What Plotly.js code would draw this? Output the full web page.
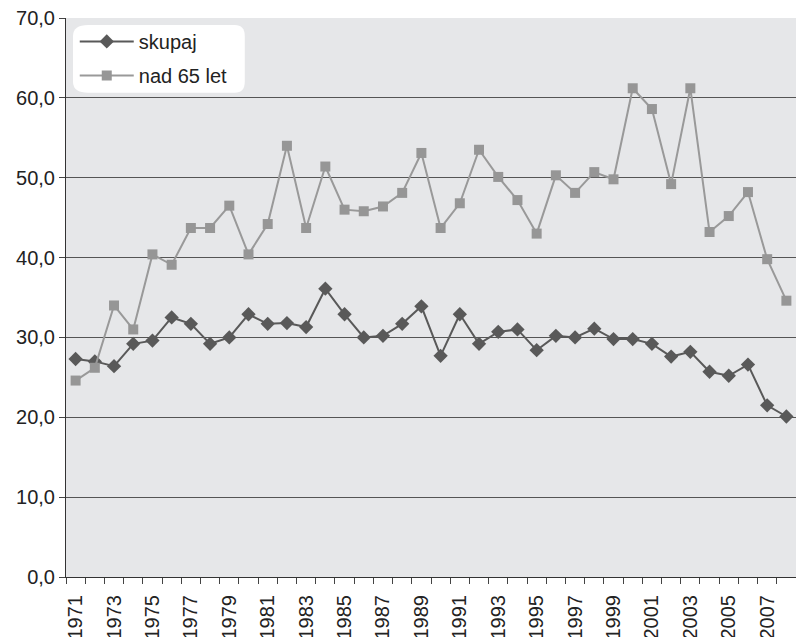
<!DOCTYPE html>
<html>
<head>
<meta charset="utf-8">
<script src="https://cdn.plot.ly/plotly-3.0.1.min.js"></script>
<style>html,body{margin:0;padding:0;background:#fff;}#chart{width:796px;height:637px;}</style>
</head>
<body>
<div id="chart"></div>
<script>
var years = [1971,1972,1973,1974,1975,1976,1977,1978,1979,1980,1981,1982,1983,1984,1985,1986,1987,1988,1989,1990,1991,1992,1993,1994,1995,1996,1997,1998,1999,2000,2001,2002,2003,2004,2005,2006,2007,2008];
var skupaj = [27.3,27.0,26.4,29.2,29.6,32.5,31.7,29.2,30.0,32.9,31.7,31.8,31.3,36.1,32.9,30.0,30.2,31.7,33.9,27.7,32.9,29.2,30.7,31.0,28.4,30.2,30.0,31.1,29.8,29.8,29.2,27.6,28.2,25.7,25.2,26.6,21.5,20.1];
var nad65 = [24.6,26.2,34.0,31.0,40.4,39.1,43.7,43.7,46.5,40.4,44.2,54.0,43.7,51.4,46.0,45.8,46.4,48.1,53.1,43.7,46.8,53.5,50.1,47.2,43.0,50.3,48.1,50.7,49.8,61.2,58.6,49.2,61.2,43.2,45.2,48.2,39.8,34.6];
var labelYears = years.filter(function(y){return y % 2 === 1;});
var boundaries = years.map(function(y){return y - 0.5;}).concat([years[years.length-1] + 0.5]);
var yTicks = [0,10,20,30,40,50,60,70];

var font = 'Liberation Sans, Arial, sans-serif';
var traces = [
  {x: years, y: skupaj, name: 'skupaj', legendgroup: 'a', type: 'scatter', mode: 'lines+markers',
   line: {color: '#595959', width: 2}, marker: {symbol: 'diamond', size: 11, color: '#595959'}},
  {x: years, y: nad65, name: 'nad 65 let', legendgroup: 'b', type: 'scatter', mode: 'lines+markers',
   line: {color: '#999999', width: 2}, marker: {symbol: 'square', size: 10, color: '#969696'}}
];
var range = [years[0] - 0.5, years[years.length-1] + 0.5];
var layout = {
  width: 796, height: 637,
  margin: {l: 66, r: 0, t: 18, b: 60},
  paper_bgcolor: '#ffffff', plot_bgcolor: '#e6e7e9',
  separators: ',.',
  font: {family: font, size: 20, color: '#222'},
  showlegend: true,
  legend: {x: 0.012, y: 0.993, xanchor: 'left', yanchor: 'top', bgcolor: 'rgba(0,0,0,0)',
           traceorder: 'grouped', tracegroupgap: 5, itemwidth: 54,
           font: {family: font, size: 20, color: '#222'}},
  shapes: [{type: 'path', xref: 'paper', yref: 'paper', layer: 'above',
    path: 'M 0.0305,0.9875 L 0.2311,0.9875 Q 0.2449,0.9875 0.2449,0.968 L 0.2449,0.8858 Q 0.2449,0.8662 0.2311,0.8662 L 0.0305,0.8662 Q 0.0096,0.8662 0.0096,0.8858 L 0.0096,0.968 Q 0.0096,0.9875 0.0305,0.9875 Z',
    fillcolor: '#ffffff', line: {width: 0}}],
  xaxis: {range: range, tickmode: 'array', tickvals: labelYears, ticktext: labelYears.map(String),
          tickangle: -90, ticks: 'outside', ticklen: 9, tickcolor: 'rgba(0,0,0,0)',
          showgrid: false, zeroline: false, showline: true, linecolor: '#333', linewidth: 1,
          tickfont: {family: font, size: 20, color: '#222'}},
  xaxis2: {range: range, overlaying: 'x', anchor: 'y', side: 'bottom', tickmode: 'array',
           tickvals: boundaries, ticks: 'outside', ticklen: 6, tickcolor: '#444',
           showticklabels: false, showgrid: false, zeroline: false, showline: false},
  yaxis: {range: [0, 70], tickmode: 'array', tickvals: yTicks, tickformat: '.1f',
          ticks: 'outside', ticklen: 6, tickcolor: '#444', showline: true, linecolor: '#333',
          gridcolor: '#555', gridwidth: 1, zeroline: false,
          tickfont: {family: font, size: 20, color: '#222'}}
};
traces.push({x: [years[0]], y: [null], xaxis: 'x2', showlegend: false, hoverinfo: 'skip', type: 'scatter'});
Plotly.newPlot('chart', traces, layout, {displayModeBar: false, staticPlot: true});
</script>
</body>
</html>
